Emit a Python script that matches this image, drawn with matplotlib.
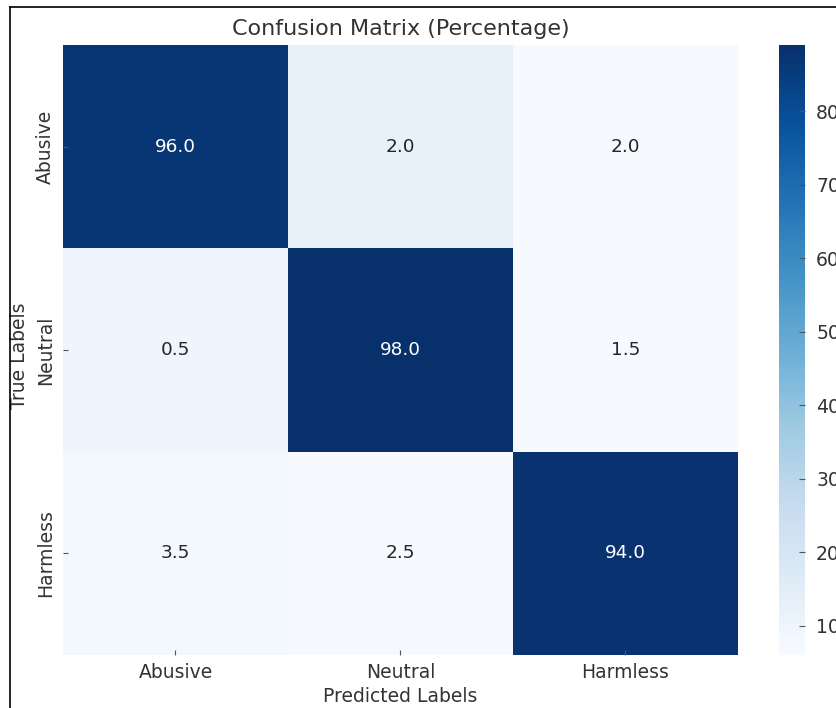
import matplotlib
matplotlib.use("Agg")
import matplotlib.pyplot as plt
from matplotlib.lines import Line2D
import numpy as np
import seaborn as sns

labels = ["Abusive", "Neutral", "Harmless"]
# percentages written in the cells
pct = np.array([[96.0, 2.0, 2.0],
                [0.5, 98.0, 1.5],
                [3.5, 2.5, 94.0]])
# shading values
shade = np.array([[87.0, 12.5, 6.5],
                  [10.0, 89.0, 6.5],
                  [8.0, 6.5, 88.0]])
vmin, vmax = 6.0, 89.0

plt.rcParams['font.family'] = ['DejaVu Sans']
txt = '#333333'

fig = plt.figure(figsize=(8.37, 7.08), dpi=100)
ax = fig.add_axes([63/837, 53/708, 675/837, 610/708])
cax = fig.add_axes([779/837, 53/708, 26/837, 610/708])

sns.heatmap(shade, annot=pct, fmt='.1f', cmap='Blues', vmin=vmin, vmax=vmax,
            ax=ax, cbar_ax=cax, xticklabels=labels, yticklabels=labels,
            annot_kws={'fontsize': 13.3})

ax.set_title('Confusion Matrix (Percentage)', fontsize=16, color=txt, pad=7)
ax.set_xlabel('Predicted Labels', fontsize=13.5, color=txt, labelpad=3)
ax.set_ylabel('True Labels', fontsize=13.5, color=txt)
ax.yaxis.set_label_coords(-0.050, 0.49)
ax.tick_params(axis='both', direction='in', length=3.5, labelsize=13.5,
               labelcolor=txt, color='#555555')
ax.tick_params(axis='x', pad=6)
ax.tick_params(axis='y', pad=6)
plt.setp(ax.get_yticklabels(), rotation=90, va='center')
plt.setp(ax.get_xticklabels(), rotation=0)

cax.tick_params(direction='in', length=4, pad=8, labelsize=13.5,
                labelcolor=txt, color='#555555')

# screenshot frame on left and top
fig.add_artist(Line2D([10/837, 10/837], [0, 1 - 7/708], transform=fig.transFigure,
                      color='black', lw=1.2))
fig.add_artist(Line2D([10/837, 1], [1 - 7/708, 1 - 7/708], transform=fig.transFigure,
                      color='black', lw=1.2))

fig.savefig('out.png', dpi=100)
